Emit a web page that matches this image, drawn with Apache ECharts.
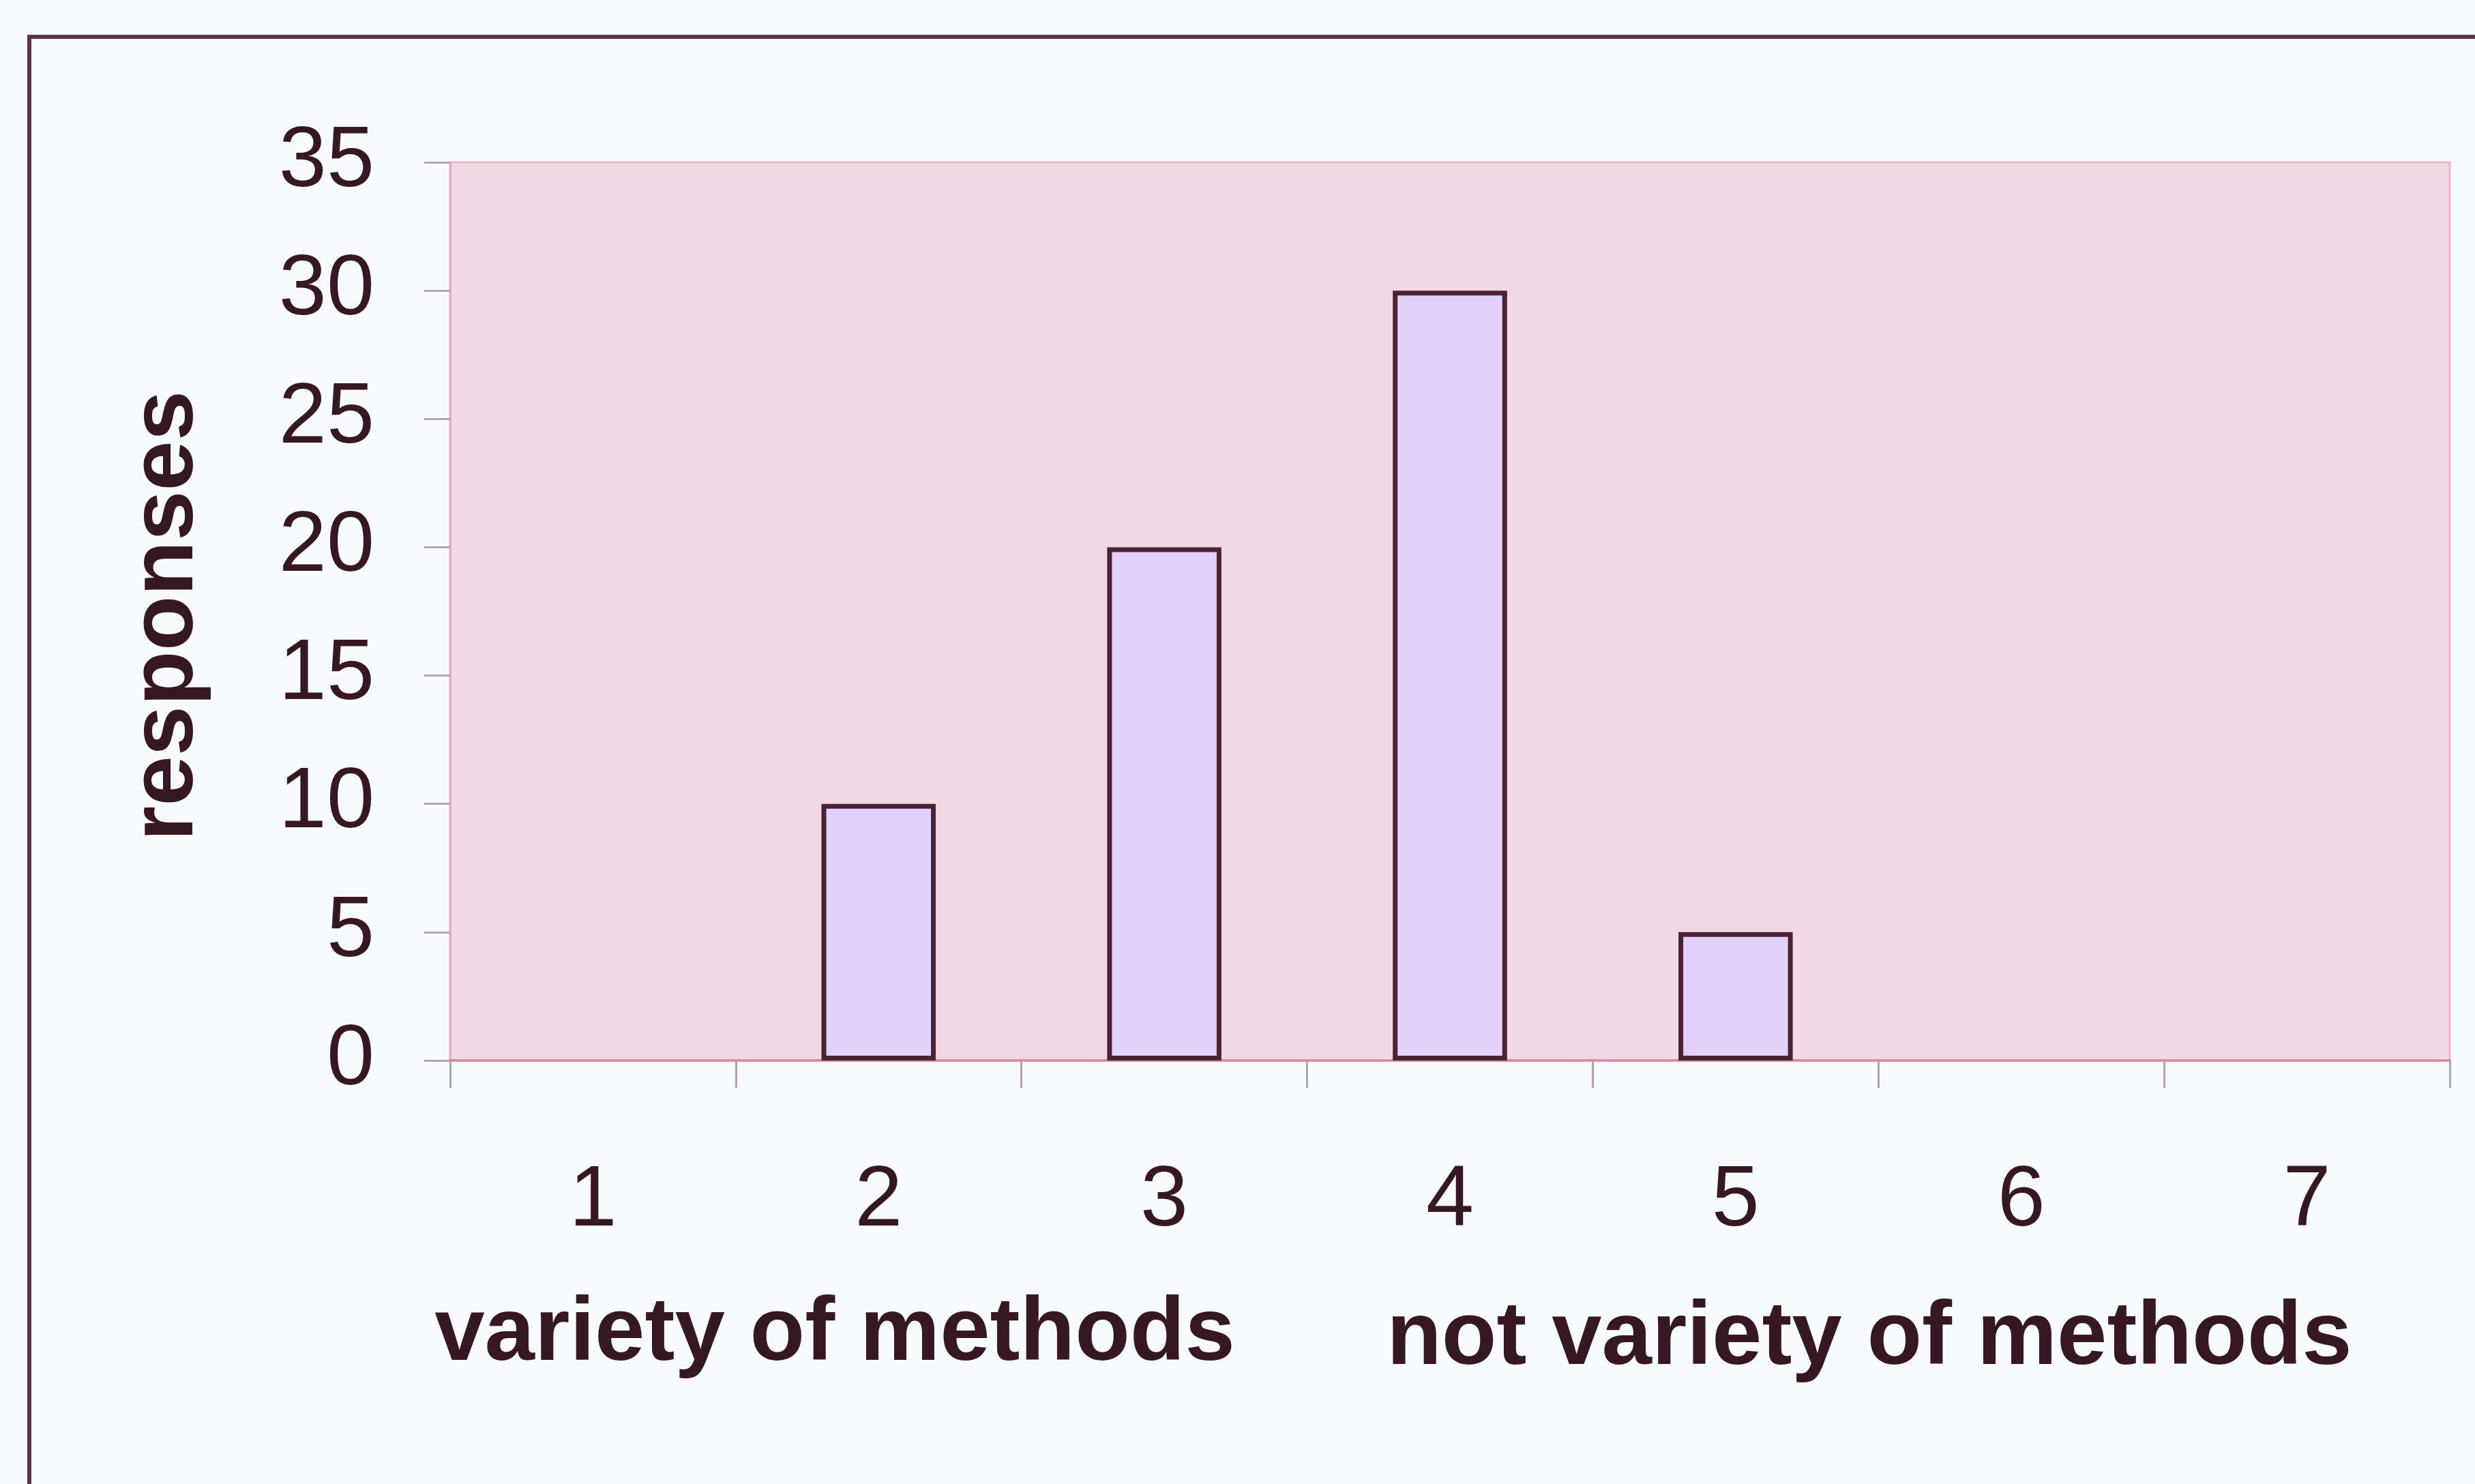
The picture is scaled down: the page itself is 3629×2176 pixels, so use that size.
<!DOCTYPE html>
<html>
<head>
<meta charset="utf-8">
<title>responses</title>
<script src="https://cdn.jsdelivr.net/npm/echarts@6/dist/echarts.min.js"></script>
<style>
  html, body { margin: 0; padding: 0; background: #f8fbfd; }
  #chart { width: 3629px; height: 2176px; }
</style>
</head>
<body>
<div id="chart"></div>
<script>
// Categories on the x axis (rating scale 1..7)
const categories = ['1', '2', '3', '4', '5', '6', '7'];
// Number of responses for each rating
const responses = [0, 10, 20, 30, 5, 0, 0];
// Y axis range and step
const yMin = 0;
const yMax = 35;
const yStep = 5;
// Axis titles
const yTitle = 'responses';
const xTitleLeft = 'variety of methods';
const xTitleRight = 'not variety of methods';

const FONT = '"Liberation Sans", Arial, Helvetica, sans-serif';
const TEXT = '#361823';

// Empty categories get no outline, so nothing is drawn for them
const barData = responses.map(v => ({
  value: v,
  itemStyle: v === 0 ? { borderWidth: 0 } : undefined
}));

const chart = echarts.init(document.getElementById('chart'), null, { renderer: 'canvas' });

chart.setOption({
  backgroundColor: '#f8fbfd',
  animation: false,
  grid: {
    left: 660,
    top: 238,
    width: 2932,
    height: 1317,
    show: true,
    backgroundColor: '#f2d8e5',
    borderColor: '#f0b4c6',
    borderWidth: 3
  },
  xAxis: {
    type: 'category',
    data: categories,
    axisLine: { show: true, lineStyle: { color: '#d4909c', width: 4 } },
    axisTick: { show: true, alignWithLabel: false, length: 40, lineStyle: { color: '#b0a0bc', width: 3 } },
    axisLabel: {
      margin: 144,
      fontFamily: FONT,
      fontSize: 126,
      color: TEXT
    },
    splitLine: { show: false }
  },
  yAxis: {
    type: 'value',
    min: yMin,
    max: yMax,
    interval: yStep,
    axisLine: { show: true, lineStyle: { color: '#eaa8ba', width: 3 } },
    axisTick: { show: true, length: 38, lineStyle: { color: '#b4a4bc', width: 3 } },
    axisLabel: {
      margin: 111,
      fontFamily: FONT,
      fontSize: 126,
      color: TEXT
    },
    splitLine: { show: false }
  },
  series: [{
    type: 'bar',
    data: barData,
    barCategoryGap: '60%',
    itemStyle: {
      color: '#e2d2fb',
      borderColor: '#4b2233',
      borderWidth: 7
    },
    emphasis: { disabled: true }
  }],
  graphic: [
    {
      // frame around the whole chart
      type: 'rect',
      silent: true,
      shape: { x: 43, y: 54, width: 4000, height: 4000 },
      style: { fill: 'none', stroke: '#5e3346', lineWidth: 6 }
    },
    {
      type: 'text',
      silent: true,
      x: 246,
      y: 903,
      rotation: Math.PI / 2,
      style: {
        text: yTitle,
        font: 'bold 132px ' + FONT,
        fill: TEXT,
        textAlign: 'center',
        textVerticalAlign: 'middle'
      }
    },
    {
      type: 'text',
      silent: true,
      x: 1224,
      y: 1958,
      style: {
        text: xTitleLeft,
        font: 'bold 132px ' + FONT,
        fill: TEXT,
        textAlign: 'center',
        textVerticalAlign: 'middle'
      }
    },
    {
      type: 'text',
      silent: true,
      x: 2741,
      y: 1964,
      style: {
        text: xTitleRight,
        font: 'bold 132px ' + FONT,
        fill: TEXT,
        textAlign: 'center',
        textVerticalAlign: 'middle'
      }
    }
  ]
});
</script>
</body>
</html>
